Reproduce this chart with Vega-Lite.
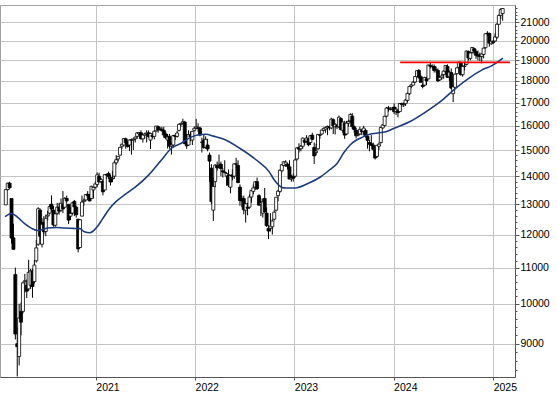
{
"$schema": "https://vega.github.io/schema/vega-lite/v6.json",
"width": 515,
"height": 372,
"padding": {"top": 3, "left": 0, "right": 0, "bottom": 0},
"background": "white",
"config": {
 "view": {"stroke": "#a0a0a0", "strokeWidth": 1},
 "axis": {"labelFont": "Liberation Sans", "labelFontSize": 10.5, "labelColor": "#000", "domainColor": "#555", "tickColor": "#555", "gridColor": "#c4c4c4", "gridWidth": 1, "title": null}
},
"datasets": {
"k": [
{"d":"2020-02-05","o":12980,"h":13525,"l":12970,"c":13514},
{"d":"2020-02-12","o":13514,"h":13760,"l":13480,"c":13744},
{"d":"2020-02-19","o":13744,"h":13795,"l":13540,"c":13579},
{"d":"2020-02-26","o":13200,"h":13200,"l":11720,"c":11890},
{"d":"2020-03-04","o":11900,"h":12350,"l":11550,"c":11542},
{"d":"2020-03-11","o":10800,"h":11000,"l":9100,"c":9232},
{"d":"2020-03-18","o":9000,"h":9400,"l":8255,"c":8929},
{"d":"2020-03-25","o":8700,"h":10000,"l":8500,"c":9633},
{"d":"2020-04-01","o":9800,"h":10030,"l":9200,"c":9525},
{"d":"2020-04-08","o":9800,"h":10600,"l":9750,"c":10565},
{"d":"2020-04-15","o":10600,"h":10820,"l":10300,"c":10626},
{"d":"2020-04-22","o":10500,"h":10660,"l":10150,"c":10336},
{"d":"2020-04-29","o":10400,"h":11230,"l":10350,"c":10862},
{"d":"2020-05-06","o":10500,"h":10960,"l":10400,"c":10904},
{"d":"2020-05-13","o":10900,"h":10970,"l":10160,"c":10465},
{"d":"2020-05-20","o":10600,"h":11230,"l":10550,"c":11074},
{"d":"2020-05-27","o":11200,"h":11830,"l":11150,"c":11587},
{"d":"2020-06-03","o":11700,"h":12900,"l":11650,"c":12848},
{"d":"2020-06-10","o":12800,"h":12860,"l":11700,"c":11949},
{"d":"2020-06-17","o":11700,"h":12530,"l":11600,"c":12331},
{"d":"2020-06-24","o":12400,"h":12600,"l":12000,"c":12089},
{"d":"2020-07-01","o":12100,"h":12650,"l":11950,"c":12528},
{"d":"2020-07-08","o":12600,"h":12780,"l":12450,"c":12633},
{"d":"2020-07-15","o":12700,"h":13000,"l":12650,"c":12920},
{"d":"2020-07-22","o":13000,"h":13310,"l":12750,"c":12838},
{"d":"2020-07-29","o":12800,"h":12940,"l":12250,"c":12313},
{"d":"2020-08-05","o":12300,"h":12700,"l":12250,"c":12675},
{"d":"2020-08-12","o":12700,"h":13050,"l":12650,"c":12901},
{"d":"2020-08-19","o":12900,"h":13050,"l":12650,"c":12765},
{"d":"2020-08-26","o":12800,"h":13200,"l":12750,"c":13033},
{"d":"2020-09-02","o":13000,"h":13460,"l":12700,"c":12842},
{"d":"2020-09-09","o":12900,"h":13250,"l":12900,"c":13203},
{"d":"2020-09-16","o":13200,"h":13300,"l":13050,"c":13116},
{"d":"2020-09-23","o":13000,"h":13000,"l":12340,"c":12469},
{"d":"2020-09-30","o":12600,"h":12900,"l":12470,"c":12689},
{"d":"2020-10-07","o":12700,"h":13070,"l":12650,"c":13051},
{"d":"2020-10-14","o":13100,"h":13150,"l":12600,"c":12909},
{"d":"2020-10-21","o":12900,"h":12950,"l":12550,"c":12646},
{"d":"2020-10-28","o":12500,"h":12500,"l":11450,"c":11556},
{"d":"2020-11-04","o":11600,"h":12500,"l":11600,"c":12480},
{"d":"2020-11-11","o":12600,"h":13300,"l":12600,"c":13077},
{"d":"2020-11-18","o":13100,"h":13200,"l":12950,"c":13137},
{"d":"2020-11-25","o":13150,"h":13350,"l":13100,"c":13335},
{"d":"2020-12-02","o":13350,"h":13460,"l":13150,"c":13298},
{"d":"2020-12-09","o":13300,"h":13350,"l":13100,"c":13114},
{"d":"2020-12-16","o":13200,"h":13650,"l":13180,"c":13631},
{"d":"2020-12-23","o":13500,"h":13600,"l":13200,"c":13587},
{"d":"2020-12-30","o":13600,"h":13800,"l":13550,"c":13719},
{"d":"2021-01-06","o":13700,"h":14140,"l":13600,"c":14050},
{"d":"2021-01-13","o":14000,"h":14130,"l":13780,"c":13788},
{"d":"2021-01-20","o":13800,"h":13940,"l":13750,"c":13873},
{"d":"2021-01-27","o":13800,"h":13850,"l":13310,"c":13433},
{"d":"2021-02-03","o":13500,"h":14070,"l":13500,"c":14057},
{"d":"2021-02-10","o":14050,"h":14100,"l":13900,"c":14050},
{"d":"2021-02-17","o":14100,"h":14170,"l":13900,"c":13993},
{"d":"2021-02-24","o":13950,"h":14050,"l":13660,"c":13786},
{"d":"2021-03-03","o":13900,"h":14200,"l":13780,"c":13920},
{"d":"2021-03-10","o":14000,"h":14570,"l":13900,"c":14502},
{"d":"2021-03-17","o":14500,"h":14800,"l":14430,"c":14621},
{"d":"2021-03-24","o":14650,"h":14760,"l":14550,"c":14749},
{"d":"2021-03-31","o":14800,"h":15130,"l":14780,"c":15107},
{"d":"2021-04-07","o":15150,"h":15250,"l":15040,"c":15234},
{"d":"2021-04-14","o":15200,"h":15470,"l":15140,"c":15460},
{"d":"2021-04-21","o":15450,"h":15500,"l":15050,"c":15280},
{"d":"2021-04-28","o":15300,"h":15360,"l":15100,"c":15136},
{"d":"2021-05-05","o":15200,"h":15420,"l":14960,"c":15400},
{"d":"2021-05-12","o":15400,"h":15460,"l":14820,"c":15417},
{"d":"2021-05-19","o":15400,"h":15480,"l":15000,"c":15437},
{"d":"2021-05-26","o":15450,"h":15540,"l":15300,"c":15520},
{"d":"2021-06-02","o":15550,"h":15730,"l":15450,"c":15693},
{"d":"2021-06-09","o":15650,"h":15730,"l":15550,"c":15693},
{"d":"2021-06-16","o":15700,"h":15800,"l":15430,"c":15448},
{"d":"2021-06-23","o":15450,"h":15650,"l":15300,"c":15607},
{"d":"2021-06-30","o":15600,"h":15700,"l":15450,"c":15650},
{"d":"2021-07-07","o":15650,"h":15800,"l":15300,"c":15688},
{"d":"2021-07-14","o":15700,"h":15800,"l":15500,"c":15540},
{"d":"2021-07-21","o":15400,"h":15700,"l":15040,"c":15669},
{"d":"2021-07-28","o":15600,"h":15700,"l":15460,"c":15544},
{"d":"2021-08-04","o":15550,"h":15800,"l":15430,"c":15761},
{"d":"2021-08-11","o":15780,"h":15990,"l":15750,"c":15977},
{"d":"2021-08-18","o":15950,"h":16000,"l":15700,"c":15808},
{"d":"2021-08-25","o":15850,"h":15950,"l":15800,"c":15852},
{"d":"2021-09-01","o":15850,"h":15950,"l":15750,"c":15781},
{"d":"2021-09-08","o":15800,"h":15950,"l":15500,"c":15610},
{"d":"2021-09-15","o":15650,"h":15750,"l":15450,"c":15490},
{"d":"2021-09-22","o":15400,"h":15650,"l":15060,"c":15531},
{"d":"2021-09-29","o":15550,"h":15650,"l":15050,"c":15156},
{"d":"2021-10-06","o":15150,"h":15300,"l":14820,"c":15206},
{"d":"2021-10-13","o":15200,"h":15600,"l":15100,"c":15587},
{"d":"2021-10-20","o":15600,"h":15600,"l":15400,"c":15543},
{"d":"2021-10-27","o":15550,"h":15780,"l":15500,"c":15688},
{"d":"2021-11-03","o":15800,"h":16080,"l":15750,"c":16054},
{"d":"2021-11-10","o":16050,"h":16110,"l":15950,"c":16094},
{"d":"2021-11-17","o":16100,"h":16290,"l":16050,"c":16160},
{"d":"2021-11-24","o":16150,"h":16200,"l":15250,"c":15257},
{"d":"2021-12-01","o":15300,"h":15650,"l":15050,"c":15170},
{"d":"2021-12-08","o":15200,"h":15800,"l":15180,"c":15623},
{"d":"2021-12-15","o":15600,"h":15750,"l":15350,"c":15531},
{"d":"2021-12-22","o":15400,"h":15760,"l":15200,"c":15756},
{"d":"2021-12-29","o":15800,"h":15950,"l":15750,"c":15885},
{"d":"2022-01-05","o":15900,"h":16285,"l":15850,"c":15948},
{"d":"2022-01-12","o":15900,"h":16100,"l":15750,"c":15883},
{"d":"2022-01-19","o":15900,"h":15950,"l":15550,"c":15603},
{"d":"2022-01-26","o":15300,"h":15500,"l":14900,"c":15318},
{"d":"2022-02-02","o":15400,"h":15650,"l":15050,"c":15100},
{"d":"2022-02-09","o":15100,"h":15550,"l":15050,"c":15425},
{"d":"2022-02-16","o":15200,"h":15450,"l":14950,"c":15042},
{"d":"2022-02-23","o":14800,"h":14900,"l":13800,"c":14567},
{"d":"2022-03-02","o":14300,"h":14450,"l":13000,"c":13094},
{"d":"2022-03-09","o":12800,"h":13950,"l":12440,"c":13628},
{"d":"2022-03-16","o":13800,"h":14450,"l":13600,"c":14413},
{"d":"2022-03-23","o":14400,"h":14550,"l":14200,"c":14306},
{"d":"2022-03-30","o":14400,"h":14820,"l":14300,"c":14446},
{"d":"2022-04-06","o":14450,"h":14550,"l":14000,"c":14284},
{"d":"2022-04-13","o":14200,"h":14300,"l":13950,"c":14163},
{"d":"2022-04-20","o":14150,"h":14600,"l":14100,"c":14142},
{"d":"2022-04-27","o":14000,"h":14150,"l":13650,"c":14098},
{"d":"2022-05-04","o":14050,"h":14250,"l":13600,"c":13674},
{"d":"2022-05-11","o":13600,"h":14050,"l":13380,"c":14027},
{"d":"2022-05-18","o":14050,"h":14250,"l":13850,"c":13982},
{"d":"2022-05-25","o":14000,"h":14470,"l":13900,"c":14462},
{"d":"2022-06-01","o":14450,"h":14700,"l":14300,"c":14460},
{"d":"2022-06-08","o":14400,"h":14600,"l":13750,"c":13762},
{"d":"2022-06-15","o":13600,"h":13700,"l":12950,"c":13127},
{"d":"2022-06-22","o":13200,"h":13300,"l":12900,"c":13118},
{"d":"2022-06-29","o":13200,"h":13300,"l":12660,"c":12813},
{"d":"2022-07-06","o":12800,"h":13050,"l":12390,"c":13015},
{"d":"2022-07-13","o":12900,"h":13050,"l":12630,"c":12864},
{"d":"2022-07-20","o":12900,"h":13350,"l":12850,"c":13254},
{"d":"2022-07-27","o":13250,"h":13500,"l":13050,"c":13484},
{"d":"2022-08-03","o":13450,"h":13700,"l":13350,"c":13573},
{"d":"2022-08-10","o":13600,"h":13800,"l":13500,"c":13795},
{"d":"2022-08-17","o":13800,"h":13950,"l":13500,"c":13544},
{"d":"2022-08-24","o":13300,"h":13350,"l":12950,"c":12971},
{"d":"2022-08-31","o":13000,"h":13200,"l":12600,"c":13050},
{"d":"2022-09-07","o":12700,"h":13200,"l":12550,"c":13088},
{"d":"2022-09-14","o":13200,"h":13570,"l":12700,"c":12741},
{"d":"2022-09-21","o":12700,"h":12900,"l":12250,"c":12284},
{"d":"2022-09-28","o":12200,"h":12300,"l":11860,"c":12114},
{"d":"2022-10-05","o":12200,"h":12700,"l":12100,"c":12273},
{"d":"2022-10-12","o":12250,"h":12500,"l":12000,"c":12438},
{"d":"2022-10-19","o":12500,"h":12800,"l":12450,"c":12731},
{"d":"2022-10-26","o":12800,"h":13250,"l":12750,"c":13243},
{"d":"2022-11-02","o":13300,"h":13500,"l":13100,"c":13460},
{"d":"2022-11-09","o":13450,"h":14250,"l":13400,"c":14224},
{"d":"2022-11-16","o":14200,"h":14450,"l":14150,"c":14431},
{"d":"2022-11-23","o":14400,"h":14560,"l":14350,"c":14541},
{"d":"2022-11-30","o":14450,"h":14600,"l":14350,"c":14529},
{"d":"2022-12-07","o":14450,"h":14500,"l":14250,"c":14370},
{"d":"2022-12-14","o":14350,"h":14600,"l":13900,"c":13893},
{"d":"2022-12-21","o":13900,"h":14050,"l":13800,"c":13940},
{"d":"2022-12-28","o":14000,"h":14100,"l":13800,"c":13924},
{"d":"2023-01-04","o":14000,"h":14650,"l":13950,"c":14610},
{"d":"2023-01-11","o":14650,"h":15100,"l":14600,"c":15087},
{"d":"2023-01-18","o":15100,"h":15270,"l":14900,"c":15033},
{"d":"2023-01-25","o":15050,"h":15200,"l":14950,"c":15150},
{"d":"2023-02-01","o":15150,"h":15500,"l":15050,"c":15476},
{"d":"2023-02-08","o":15400,"h":15450,"l":15200,"c":15308},
{"d":"2023-02-15","o":15350,"h":15600,"l":15300,"c":15482},
{"d":"2023-02-22","o":15450,"h":15500,"l":15150,"c":15210},
{"d":"2023-03-01","o":15300,"h":15600,"l":15200,"c":15578},
{"d":"2023-03-08","o":15600,"h":15700,"l":15400,"c":15428},
{"d":"2023-03-15","o":15100,"h":15300,"l":14460,"c":14768},
{"d":"2023-03-22","o":14900,"h":15250,"l":14800,"c":14957},
{"d":"2023-03-29","o":15050,"h":15650,"l":15000,"c":15629},
{"d":"2023-04-05","o":15600,"h":15650,"l":15450,"c":15598},
{"d":"2023-04-12","o":15650,"h":15830,"l":15600,"c":15808},
{"d":"2023-04-19","o":15800,"h":15920,"l":15750,"c":15882},
{"d":"2023-04-26","o":15850,"h":15950,"l":15700,"c":15922},
{"d":"2023-05-03","o":15900,"h":16000,"l":15600,"c":15961},
{"d":"2023-05-10","o":15950,"h":16000,"l":15800,"c":15914},
{"d":"2023-05-17","o":15900,"h":16330,"l":15850,"c":16275},
{"d":"2023-05-24","o":16250,"h":16300,"l":15650,"c":15984},
{"d":"2023-05-31","o":15950,"h":16100,"l":15630,"c":16051},
{"d":"2023-06-07","o":16000,"h":16050,"l":15850,"c":15950},
{"d":"2023-06-14","o":15950,"h":16430,"l":15900,"c":16358},
{"d":"2023-06-21","o":16300,"h":16350,"l":15800,"c":15830},
{"d":"2023-06-28","o":15800,"h":16180,"l":15700,"c":16148},
{"d":"2023-07-05","o":16100,"h":16200,"l":15450,"c":15603},
{"d":"2023-07-12","o":15650,"h":16200,"l":15600,"c":16105},
{"d":"2023-07-19","o":16100,"h":16250,"l":15950,"c":16177},
{"d":"2023-07-26","o":16200,"h":16530,"l":16100,"c":16469},
{"d":"2023-08-02","o":16400,"h":16530,"l":15850,"c":15952},
{"d":"2023-08-09","o":15950,"h":16000,"l":15700,"c":15832},
{"d":"2023-08-16","o":15800,"h":15900,"l":15470,"c":15574},
{"d":"2023-08-23","o":15600,"h":15800,"l":15550,"c":15632},
{"d":"2023-08-30","o":15650,"h":15950,"l":15600,"c":15840},
{"d":"2023-09-06","o":15800,"h":15850,"l":15600,"c":15740},
{"d":"2023-09-13","o":15750,"h":15990,"l":15600,"c":15894},
{"d":"2023-09-20","o":15800,"h":15850,"l":15500,"c":15557},
{"d":"2023-09-27","o":15550,"h":15600,"l":15050,"c":15387},
{"d":"2023-10-04","o":15300,"h":15400,"l":14950,"c":15229},
{"d":"2023-10-11","o":15250,"h":15600,"l":15150,"c":15186},
{"d":"2023-10-18","o":15200,"h":15300,"l":14980,"c":15030},
{"d":"2023-10-25","o":15000,"h":15050,"l":14630,"c":14688},
{"d":"2023-11-01","o":14750,"h":15200,"l":14700,"c":15189},
{"d":"2023-11-08","o":15150,"h":15300,"l":15000,"c":15234},
{"d":"2023-11-15","o":15300,"h":15950,"l":15250,"c":15919},
{"d":"2023-11-22","o":15900,"h":16050,"l":15850,"c":16029},
{"d":"2023-11-29","o":16000,"h":16400,"l":15950,"c":16398},
{"d":"2023-12-06","o":16400,"h":16800,"l":16350,"c":16759},
{"d":"2023-12-13","o":16750,"h":16850,"l":16600,"c":16751},
{"d":"2023-12-20","o":16700,"h":16800,"l":16650,"c":16706},
{"d":"2023-12-27","o":16700,"h":16800,"l":16650,"c":16752},
{"d":"2024-01-03","o":16800,"h":16960,"l":16500,"c":16594},
{"d":"2024-01-10","o":16600,"h":16800,"l":16450,"c":16704},
{"d":"2024-01-17","o":16650,"h":16700,"l":16350,"c":16555},
{"d":"2024-01-24","o":16600,"h":16970,"l":16600,"c":16961},
{"d":"2024-01-31","o":16950,"h":17000,"l":16800,"c":16918},
{"d":"2024-02-07","o":16900,"h":17000,"l":16800,"c":16927},
{"d":"2024-02-14","o":16950,"h":17150,"l":16850,"c":17117},
{"d":"2024-02-21","o":17100,"h":17450,"l":17000,"c":17419},
{"d":"2024-02-28","o":17400,"h":17750,"l":17350,"c":17735},
{"d":"2024-03-06","o":17750,"h":17850,"l":17650,"c":17815},
{"d":"2024-03-13","o":17800,"h":18000,"l":17800,"c":17937},
{"d":"2024-03-20","o":17950,"h":18230,"l":17900,"c":18206},
{"d":"2024-03-27","o":18200,"h":18500,"l":18200,"c":18492},
{"d":"2024-04-03","o":18500,"h":18570,"l":18100,"c":18175},
{"d":"2024-04-10","o":18200,"h":18300,"l":17950,"c":17930},
{"d":"2024-04-17","o":17800,"h":17900,"l":17650,"c":17737},
{"d":"2024-04-24","o":17800,"h":18200,"l":17750,"c":18161},
{"d":"2024-05-01","o":18100,"h":18200,"l":17800,"c":18001},
{"d":"2024-05-08","o":18100,"h":18780,"l":18100,"c":18773},
{"d":"2024-05-15","o":18750,"h":18890,"l":18600,"c":18704},
{"d":"2024-05-22","o":18700,"h":18800,"l":18600,"c":18693},
{"d":"2024-05-29","o":18700,"h":18800,"l":18400,"c":18498},
{"d":"2024-06-05","o":18550,"h":18700,"l":18400,"c":18557},
{"d":"2024-06-12","o":18500,"h":18600,"l":17950,"c":18002},
{"d":"2024-06-19","o":18050,"h":18250,"l":18000,"c":18164},
{"d":"2024-06-26","o":18150,"h":18350,"l":18050,"c":18235},
{"d":"2024-07-03","o":18300,"h":18500,"l":18100,"c":18475},
{"d":"2024-07-10","o":18450,"h":18750,"l":18300,"c":18748},
{"d":"2024-07-17","o":18700,"h":18800,"l":18150,"c":18171},
{"d":"2024-07-24","o":18200,"h":18500,"l":18000,"c":18418},
{"d":"2024-07-31","o":18400,"h":18600,"l":17600,"c":17661},
{"d":"2024-08-07","o":17400,"h":17800,"l":17020,"c":17723},
{"d":"2024-08-14","o":17700,"h":18350,"l":17700,"c":18322},
{"d":"2024-08-21","o":18350,"h":18650,"l":18300,"c":18633},
{"d":"2024-08-28","o":18650,"h":18950,"l":18550,"c":18906},
{"d":"2024-09-04","o":18900,"h":18950,"l":18250,"c":18302},
{"d":"2024-09-11","o":18300,"h":18750,"l":18200,"c":18699},
{"d":"2024-09-18","o":18700,"h":18900,"l":18500,"c":18720},
{"d":"2024-09-25","o":18800,"h":19500,"l":18750,"c":19474},
{"d":"2024-10-02","o":19450,"h":19500,"l":19000,"c":19121},
{"d":"2024-10-09","o":19100,"h":19400,"l":19000,"c":19373},
{"d":"2024-10-16","o":19400,"h":19670,"l":19350,"c":19657},
{"d":"2024-10-23","o":19600,"h":19650,"l":19300,"c":19464},
{"d":"2024-10-30","o":19450,"h":19550,"l":19080,"c":19255},
{"d":"2024-11-06","o":19300,"h":19500,"l":19000,"c":19215},
{"d":"2024-11-13","o":19200,"h":19400,"l":18970,"c":19211},
{"d":"2024-11-20","o":19200,"h":19350,"l":18850,"c":19323},
{"d":"2024-11-27","o":19300,"h":19650,"l":19100,"c":19626},
{"d":"2024-12-04","o":19650,"h":20400,"l":19600,"c":20385},
{"d":"2024-12-11","o":20400,"h":20520,"l":20250,"c":20406},
{"d":"2024-12-18","o":20400,"h":20450,"l":19700,"c":19885},
{"d":"2024-12-25","o":19850,"h":20000,"l":19800,"c":19985},
{"d":"2025-01-01","o":19950,"h":20050,"l":19850,"c":19906},
{"d":"2025-01-08","o":20000,"h":20400,"l":19950,"c":20215},
{"d":"2025-01-15","o":20200,"h":20950,"l":20100,"c":20903},
{"d":"2025-01-22","o":20900,"h":21450,"l":20900,"c":21394},
{"d":"2025-01-29","o":21400,"h":21800,"l":21200,"c":21732},
{"d":"2025-02-05","o":21500,"h":21800,"l":21100,"c":21787}
],
"ma": [
{"d":"2020-02-02","v":12580},{"d":"2020-02-26","v":12690},{"d":"2020-03-20","v":12560},{"d":"2020-04-13","v":12360},
{"d":"2020-05-10","v":12200},{"d":"2020-06-01","v":12130},{"d":"2020-07-07","v":12210},{"d":"2020-08-10","v":12230},
{"d":"2020-09-06","v":12210},{"d":"2020-10-10","v":12200},{"d":"2020-11-04","v":12190},{"d":"2020-11-20","v":12090},
{"d":"2020-12-10","v":12060},{"d":"2021-01-03","v":12220},{"d":"2021-01-25","v":12500},{"d":"2021-02-20","v":12850},
{"d":"2021-03-16","v":13090},{"d":"2021-04-20","v":13350},{"d":"2021-05-27","v":13610},{"d":"2021-07-14","v":14040},
{"d":"2021-08-31","v":14620},{"d":"2021-10-06","v":15070},{"d":"2021-11-11","v":15270},{"d":"2021-12-17","v":15520},
{"d":"2022-01-15","v":15620},{"d":"2022-02-10","v":15640},{"d":"2022-03-10","v":15560},{"d":"2022-04-15","v":15440},
{"d":"2022-06-14","v":15070},{"d":"2022-08-13","v":14620},{"d":"2022-09-30","v":14170},{"d":"2022-10-20","v":13850},
{"d":"2022-11-15","v":13600},{"d":"2022-11-29","v":13570},{"d":"2023-01-04","v":13570},{"d":"2023-02-20","v":13730},
{"d":"2023-04-08","v":13980},{"d":"2023-05-10","v":14230},{"d":"2023-06-07","v":14480},{"d":"2023-07-01","v":14880},
{"d":"2023-07-25","v":15200},{"d":"2023-08-19","v":15410},{"d":"2023-09-11","v":15530},{"d":"2023-10-06","v":15640},
{"d":"2023-10-29","v":15680},{"d":"2023-12-04","v":15740},{"d":"2024-01-01","v":15880},{"d":"2024-02-29","v":16160},
{"d":"2024-04-30","v":16600},{"d":"2024-06-29","v":17120},{"d":"2024-08-16","v":17650},{"d":"2024-10-03","v":18120},
{"d":"2024-11-20","v":18520},{"d":"2024-12-26","v":18730},{"d":"2025-02-06","v":19120}
],
"res": [{"d":"2024-01-25","d2":"2025-03-04","v":18900}]
},
"encoding": {
 "x": {"field": "d", "type": "temporal", "scale": {"type": "utc", "domain": ["2020-02-02", "2025-03-04"]},
  "axis": {"orient": "bottom", "format": "%Y", "tickCount": {"interval": "year", "step": 1}, "labelAlign": "left", "labelBaseline": "top", "labelPadding": 2, "tickSize": 3, "grid": true, "labelFlush": false, "labelOverlap": false}}
},
"layer": [
 {"data": {"name": "k"}, "mark": {"type": "rule", "color": "black", "strokeWidth": 1},
  "encoding": {
   "y": {"field": "l", "type": "quantitative", "scale": {"type": "log", "domain": [8243, 21990], "nice": false, "zero": false},
    "axis": {"orient": "right",
     "values": [8400,8600,8800,9000,9200,9400,9600,9800,10000,10200,10400,10600,10800,11000,11200,11400,11600,11800,12000,12200,12400,12600,12800,13000,13200,13400,13600,13800,14000,14200,14400,14600,14800,15000,15200,15400,15600,15800,16000,16200,16400,16600,16800,17000,17200,17400,17600,17800,18000,18200,18400,18600,18800,19000,19200,19400,19600,19800,20000,20200,20400,20600,20800,21000,21200,21400,21600,21800],
     "labelExpr": "datum.value % 1000 === 0 ? format(datum.value, 'd') : ''",
     "gridOpacity": {"condition": {"test": "datum.value % 1000 === 0", "value": 1}, "value": 0},
     "tickSize": {"condition": {"test": "datum.value % 1000 === 0", "value": 4}, "value": 2},
     "labelPadding": 1, "labelOverlap": false, "labelBound": false, "labelFlush": false, "grid": true}},
   "y2": {"field": "h"}
  }},
 {"data": {"name": "k"}, "mark": {"type": "bar", "size": 3, "stroke": "black", "strokeWidth": 0.8},
  "encoding": {
   "y": {"field": "o", "type": "quantitative"},
   "y2": {"field": "c"},
   "fill": {"condition": {"test": "datum.c >= datum.o", "value": "white"}, "value": "black"}
  }},
 {"data": {"name": "ma"}, "mark": {"type": "line", "color": "#1c3c7e", "strokeWidth": 1.6, "interpolate": "monotone"},
  "encoding": {"y": {"field": "v", "type": "quantitative"}}},
 {"data": {"name": "res"}, "mark": {"type": "rule", "color": "#ff0000", "strokeWidth": 1.6},
  "encoding": {"x2": {"field": "d2"}, "y": {"field": "v", "type": "quantitative"}}}
]
}
